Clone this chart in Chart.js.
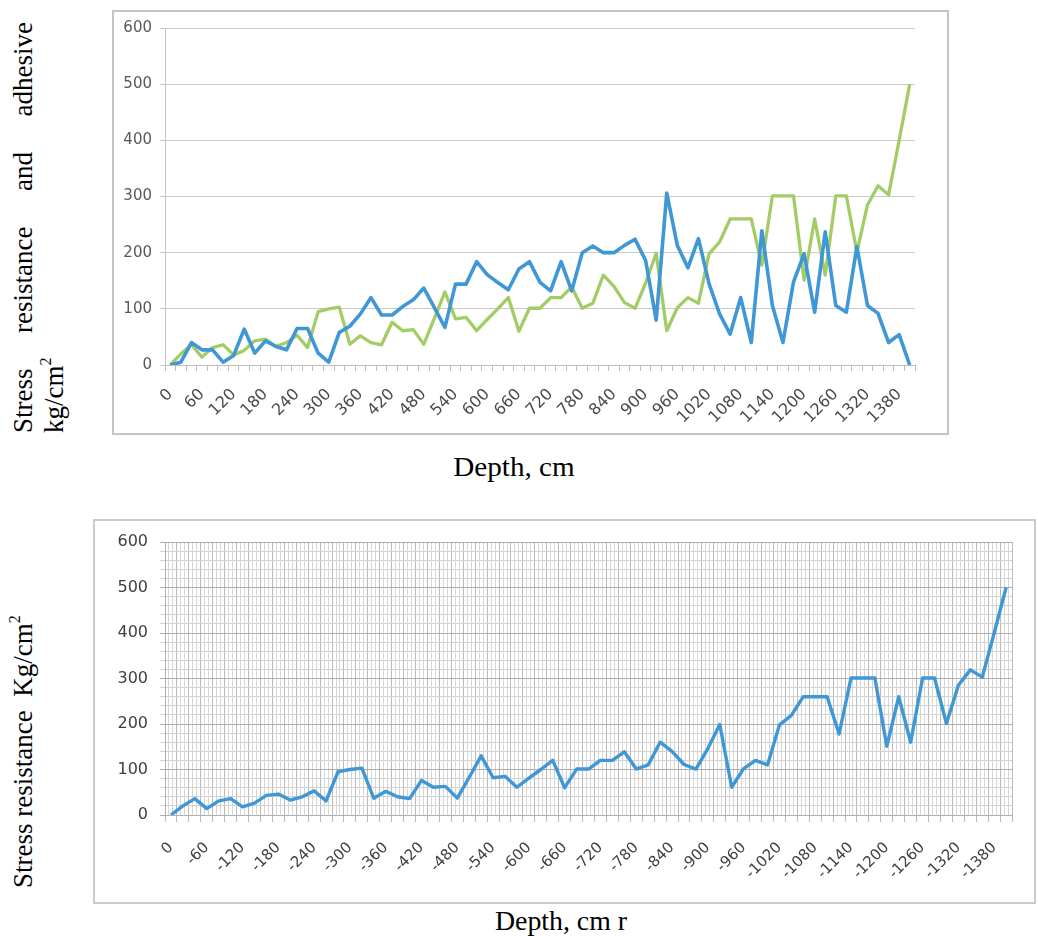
<!DOCTYPE html>
<html>
<head>
<meta charset="utf-8">
<script src="https://cdn.jsdelivr.net/npm/chart.js@4.4.0/dist/chart.umd.min.js"></script>
<style>
html,body{margin:0;padding:0;background:#fff;}
body{width:1038px;height:936px;position:relative;overflow:hidden;font-family:"Liberation Serif","Times New Roman",serif;}
canvas{position:absolute;}
.box{position:absolute;box-sizing:border-box;pointer-events:none;}
.t{position:absolute;color:#000;font-size:27px;white-space:nowrap;line-height:1;}
.rot{transform-origin:left top;transform:rotate(-90deg);}
.sup{font-size:16px;position:relative;top:-12px;}
</style>
</head>
<body>
<canvas id="c1" width="837" height="425" style="left:112px;top:10px;width:837px;height:425px"></canvas>
<div class="box" style="left:112px;top:10px;width:837px;height:425px;border:2px solid #c4c4c4"></div>
<canvas id="c2" width="943" height="385" style="left:93px;top:519px;width:943px;height:385px"></canvas>
<div class="box" style="left:93px;top:519px;width:943px;height:385px;border:2px solid #cbcbcb"></div>

<div class="t rot" style="left:10px;top:433px;width:411px;text-align:justify;text-align-last:justify;">Stress resistance and adhesive</div>
<div class="t rot" style="left:41px;top:433px;">kg/cm<span class="sup">2</span></div>
<div class="t" style="left:514px;top:467px;transform:translate(-50%,-50%) scaleX(1.08);">Depth, cm</div>

<div class="t rot" style="left:10px;top:888px;">Stress resistance&nbsp;&nbsp;Kg/cm<span class="sup">2</span></div>
<div class="t" style="left:561px;top:921px;transform:translate(-50%,-50%) scaleX(1.03);">Depth, cm r</div>

<script>
// Categories: depth, cm
const depths = [0,20,40,60,80,100,120,140,160,180,200,220,240,260,280,300,320,340,360,380,400,420,440,460,480,500,520,540,560,580,600,620,640,660,680,700,720,740,760,780,800,820,840,860,880,900,920,940,960,980,1000,1020,1040,1060,1080,1100,1120,1140,1160,1180,1200,1220,1240,1260,1280,1300,1320,1340,1360,1380,1400];
// Tick labels of the lower chart
const depthsNeg = [0,-20,-40,-60,-80,-100,-120,-140,-160,-180,-200,-220,-240,-260,-280,-300,-320,-340,-360,-380,-400,-420,-440,-460,-480,-500,-520,-540,-560,-580,-600,-620,-640,-660,-680,-700,-720,-740,-760,-780,-800,-820,-840,-860,-880,-900,-920,-940,-960,-980,-1000,-1020,-1040,-1060,-1080,-1100,-1120,-1140,-1160,-1180,-1200,-1220,-1240,-1260,-1280,-1300,-1320,-1340,-1360,-1380,-1400];
// Stress resistance, kg/cm2 (green in upper chart, blue in lower chart)
const stressResistance = [0,20,36,14,31,36,18,26,43,46,33,40,53,31,95,100,103,37,52,40,36,76,61,63,37,83,130,82,85,61,81,100,120,60,101,101,120,120,139,101,110,160,140,111,101,146,199,61,102,120,110,198,219,260,260,260,178,301,301,301,151,260,160,301,301,201,285,319,303,400,500];
// Adhesive, kg/cm2 (blue in upper chart)
const adhesive = [0,5,40,27,27,5,17,64,21,43,33,27,65,65,21,5,58,69,91,120,89,89,104,116,137,102,67,144,144,184,161,147,134,171,184,147,132,184,132,200,212,200,200,213,224,186,80,306,213,173,225,145,91,55,120,40,239,106,40,148,198,94,237,106,94,211,106,92,40,54,0];
const yTicks = [0,100,200,300,400,500,600];

const BLUE = '#3f97d5';
const GREEN = '#a3cc66';
const tickFont = {family:'"DejaVu Sans", sans-serif'};

// ---------- Upper chart ----------
new Chart(document.getElementById('c1'), {
  type: 'line',
  data: {
    labels: depths,
    datasets: [
      {label:'Adhesive', data: adhesive, borderColor: BLUE, borderWidth: 3.6, pointRadius: 0, tension: 0, fill: false, borderJoinStyle:'round'},
      {label:'Stress resistance', data: stressResistance, borderColor: GREEN, borderWidth: 3.3, pointRadius: 0, tension: 0, fill: false, borderJoinStyle:'round'}
    ]
  },
  options: {
    responsive: false,
    animation: false,
    events: [],
    layout: {padding: {top: 18, right: 34, left: 0, bottom: 0}},
    plugins: {legend: {display: false}, tooltip: {enabled: false}},
    scales: {
      x: {
        type: 'category',
        offset: true,
        grid: {display: true, drawOnChartArea: false, drawTicks: true, offset: true, tickLength: 6, color: '#bdbdbd'},
        border: {display: true, color: '#bdbdbd', width: 1},
        ticks: {
          autoSkip: false, minRotation: 45, maxRotation: 45, padding: 14,
          color: '#4a4a4a', font: Object.assign({size: 16}, tickFont),
          callback: function(v, i) { return i % 3 === 0 ? String(depths[i]) : ''; }
        },
        afterFit: function(s) { s.height = 70; }
      },
      y: {
        min: 0, max: 600,
        grid: {color: '#cacaca', lineWidth: 1, tickLength: 5, drawTicks: true},
        border: {display: true, color: '#c4c4c4'},
        ticks: {
          stepSize: 100, padding: 8, color: '#595959', font: Object.assign({size: 15}, tickFont),
          callback: function(v) { return yTicks.includes(v) ? String(v) : ''; }
        },
        afterFit: function(s) { s.width = 53; }
      }
    }
  }
});

// ---------- Lower chart ----------
new Chart(document.getElementById('c2'), {
  type: 'line',
  data: {
    labels: depthsNeg,
    datasets: [
      {label:'Stress resistance', data: stressResistance, borderColor: BLUE, borderWidth: 3.4, pointRadius: 0, tension: 0, fill: false, borderJoinStyle:'round', xAxisID: 'x'}
    ]
  },
  options: {
    responsive: false,
    animation: false,
    events: [],
    layout: {padding: {top: 23, right: 21, left: 0, bottom: 0}},
    plugins: {legend: {display: false}, tooltip: {enabled: false}},
    scales: {
      xMinor: {
        type: 'linear', position: 'top', min: 0, max: 213,
        grid: {color: '#d6d6d6', lineWidth: 1, drawTicks: false, z: -2},
        border: {display: false},
        ticks: {display: false, stepSize: 1, autoSkip: false},
        afterFit: function(s) { s.height = 0; }
      },
      x: {
        type: 'category',
        position: 'bottom',
        offset: true,
        grid: {display: true, drawOnChartArea: true, offset: true, tickLength: 7, color: '#b9b9b9', z: -1},
        border: {display: true, color: '#b0b0b0', width: 1},
        ticks: {
          autoSkip: false, minRotation: 45, maxRotation: 45, padding: 17,
          color: '#404040', font: Object.assign({size: 15}, tickFont),
          callback: function(v, i) { return i % 3 === 0 ? String(depthsNeg[i]) : ''; }
        },
        afterFit: function(s) { s.height = 89; }
      },
      y: {
        min: 0, max: 600,
        grid: {
          color: function(ctx) { return ctx.tick && ctx.tick.value % 100 === 0 ? '#adadad' : '#d2d2d2'; },
          lineWidth: 1, tickLength: 5
        },
        border: {display: true, color: '#b0b0b0'},
        ticks: {
          stepSize: 20, autoSkip: false, padding: 12, color: '#404040', font: Object.assign({size: 16}, tickFont),
          callback: function(v) { return yTicks.includes(v) ? String(v) : ''; }
        },
        afterFit: function(s) { s.width = 72; }
      }
    }
  }
});
</script>
</body>
</html>
